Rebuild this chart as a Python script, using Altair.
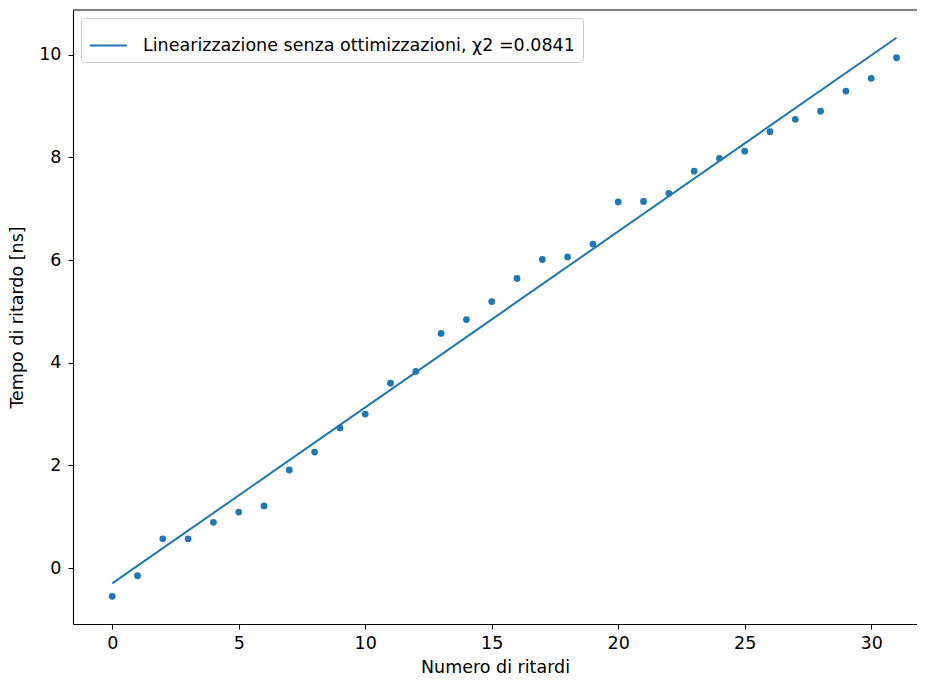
import altair as alt
import pandas as pd

# Data
ritardi = [0, 1, 2, 3, 4, 5, 6, 7, 8, 9, 10, 11, 12, 13, 14, 15,
           16, 17, 18, 19, 20, 21, 22, 23, 24, 25, 26, 27, 28, 29, 30, 31]
tempo = [-0.55, -0.15, 0.57, 0.57, 0.89, 1.09, 1.21, 1.91, 2.26, 2.73, 3.00,
         3.60, 3.83, 4.57, 4.84, 5.19, 5.64, 6.01, 6.06, 6.31, 7.13, 7.14,
         7.30, 7.73, 7.98, 8.12, 8.50, 8.74, 8.90, 9.29, 9.54, 9.94]
fit_x = [0, 31]
fit_y = [-0.30, 10.33]
fit_label = "Linearizzazione senza ottimizzazioni, χ2 =0.0841"
x_ticks = [0, 5, 10, 15, 20, 25, 30]
y_ticks = [0, 2, 4, 6, 8, 10]

BLUE = "#1f77b4"
FONT = "DejaVu Sans"
FS = 17.5
W, H = 844, 614

pts = pd.DataFrame({"x": ritardi, "y": tempo})
fit = pd.DataFrame({"x": fit_x, "y": fit_y, "label": [fit_label] * len(fit_x)})

xscale = alt.Scale(domain=[-1.55, 31.81], nice=False, zero=False)
yscale = alt.Scale(domain=[-1.09, 10.87], nice=False, zero=False)

xaxis = alt.Axis(title="Numero di ritardi", values=x_ticks, grid=False,
                 tickSize=5, labelPadding=5, titlePadding=7)
yaxis = alt.Axis(title="Tempo di ritardo [ns]", values=y_ticks, grid=False,
                 tickSize=5, labelPadding=7, titlePadding=12)

points = alt.Chart(pts).mark_circle(size=46, opacity=1, color=BLUE).encode(
    x=alt.X("x:Q", scale=xscale, axis=xaxis),
    y=alt.Y("y:Q", scale=yscale, axis=yaxis),
)

line = alt.Chart(fit).mark_line(strokeWidth=2).encode(
    x=alt.X("x:Q", scale=xscale),
    y=alt.Y("y:Q", scale=yscale),
    color=alt.Color("label:N", scale=alt.Scale(range=[BLUE]),
                    legend=alt.Legend(title=None, orient="top-left", offset=8,
                                      symbolType="stroke", symbolSize=1369,
                                      symbolStrokeWidth=2, labelOffset=15,
                                      padding=8, fillColor="white",
                                      strokeColor="#cccccc", cornerRadius=3,
                                      labelFontSize=FS, labelFont=FONT,
                                      labelColor="black", labelLimit=700)),
)

top_border = alt.Chart(pd.DataFrame({"a": [0]})).mark_rule(
    color="black", strokeWidth=1.1).encode(
    x=alt.value(0), x2=alt.value(W), y=alt.value(0))

chart = alt.layer(line, points, top_border).properties(
    width=W, height=H,
    autosize=alt.AutoSizeParams(type="none"),
    padding={"left": 65, "top": 2, "right": 0, "bottom": 52},
).configure_view(stroke=None).configure_axis(
    labelFont=FONT, titleFont=FONT, labelFontSize=FS, titleFontSize=FS,
    titleFontWeight="normal", labelColor="black", titleColor="black",
    domainColor="black", tickColor="black", domainWidth=1.1, tickWidth=1.1,
)

chart.save("out.html", embed_options={"renderer": "svg", "actions": False})
